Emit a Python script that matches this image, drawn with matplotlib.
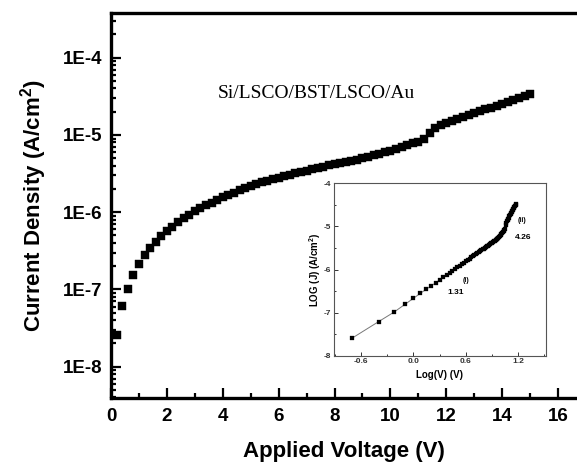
import numpy as np
import matplotlib
matplotlib.use("Agg")
import matplotlib.pyplot as plt
from matplotlib.ticker import FixedLocator, FuncFormatter, LogLocator, MultipleLocator, NullFormatter

plt.rcParams["font.family"] = ["Liberation Sans", "DejaVu Sans"]
plt.rcParams["mathtext.fontset"] = "custom"
plt.rcParams["mathtext.bf"] = "Liberation Sans:bold"
plt.rcParams["mathtext.rm"] = "Liberation Sans"

# Applied bias (V)
voltage = [0.2, 0.4, 0.6, 0.8, 1.0, 1.2, 1.4, 1.6, 1.8, 2.0,
           2.2, 2.4, 2.6, 2.8, 3.0, 3.2, 3.4, 3.6, 3.8, 4.0,
           4.2, 4.4, 4.6, 4.8, 5.0, 5.2, 5.4, 5.6, 5.8, 6.0,
           6.2, 6.4, 6.6, 6.8, 7.0, 7.2, 7.4, 7.6, 7.8, 8.0,
           8.2, 8.4, 8.6, 8.8, 9.0, 9.2, 9.4, 9.6, 9.8, 10.0,
           10.2, 10.4, 10.6, 10.8, 11.0, 11.2, 11.4, 11.6, 11.8, 12.0,
           12.2, 12.4, 12.6, 12.8, 13.0, 13.2, 13.4, 13.6, 13.8, 14.0,
           14.2, 14.4, 14.6, 14.8, 15.0]

# log10 of the leakage current density J (A/cm^2)
log_j = [-7.59, -7.21, -6.99, -6.81, -6.67, -6.555, -6.46, -6.38, -6.31, -6.245,
         -6.185, -6.13, -6.08, -6.035, -5.99, -5.95, -5.91, -5.875, -5.84, -5.805,
         -5.775, -5.745, -5.715, -5.69, -5.665, -5.64, -5.615, -5.595, -5.575, -5.555,
         -5.535, -5.515, -5.495, -5.478, -5.46, -5.445, -5.43, -5.41, -5.395, -5.38,
         -5.365, -5.35, -5.335, -5.32, -5.30, -5.285, -5.265, -5.245, -5.225, -5.205,
         -5.18, -5.16, -5.135, -5.11, -5.09, -5.05, -4.97, -4.91, -4.875, -4.845,
         -4.82, -4.795, -4.77, -4.745, -4.72, -4.695, -4.67, -4.645, -4.62, -4.595,
         -4.57, -4.545, -4.52, -4.495, -4.47]

x_ticks = [0, 2, 4, 6, 8, 10, 12, 14, 16]
y_ticks = [1e-8, 1e-7, 1e-6, 1e-5, 1e-4]
structure_label = "Si/LSCO/BST/LSCO/Au"

# inset: log-log view with the two conduction slopes
inset_x_ticks = [-0.6, 0.0, 0.6, 1.2]
inset_y_ticks = [-8, -7, -6, -5, -4]
slope_labels = [("(i)", 0.60, -6.25, 5), ("1.31", 0.485, -6.54, 6),
                ("(ii)", 1.25, -4.86, 5), ("4.26", 1.26, -5.25, 6)]

V = np.array(voltage)
LJ = np.array(log_j)
J = 10.0 ** LJ

W, H = 577, 462
fig = plt.figure(figsize=(W / 100, H / 100), dpi=100)
ax = fig.add_axes([111 / W, 1 - 398 / H, (W - 111) / W, (398 - 13) / H])

ax.plot(V, J, ls="none", marker="s", ms=6.4, color="black", mec="black", mew=0.3)
ax.set_yscale("log")
ax.set_xlim(0, (W - 111) / 27.94)
ax.set_ylim(10 ** -8.405, 10 ** -3.421)

ax.xaxis.set_major_locator(FixedLocator(x_ticks))
ax.xaxis.set_minor_locator(MultipleLocator(1))
ax.yaxis.set_major_locator(FixedLocator(y_ticks))
ax.yaxis.set_minor_locator(LogLocator(base=10, subs=np.arange(2, 10), numticks=20))
ax.yaxis.set_minor_formatter(NullFormatter())
ax.yaxis.set_major_formatter(FuncFormatter(lambda v, p: "1E%d" % int(round(np.log10(v)))))

ax.tick_params(which="both", direction="in", width=1.6, top=False, right=False)
ax.tick_params(which="major", length=7)
ax.tick_params(which="minor", length=3.5)
ax.tick_params(axis="x", which="major", labelsize=13.5, pad=7)
ax.tick_params(axis="y", which="major", labelsize=13.5, pad=6)
for lbl in ax.get_xticklabels() + ax.get_yticklabels():
    lbl.set_fontweight("bold")

for side in ("left", "bottom", "top"):
    ax.spines[side].set_linewidth(2.4)
ax.spines["right"].set_visible(False)

ax.set_xlabel("Applied Voltage (V)", fontsize=16, fontweight="bold", labelpad=12)
ax.set_ylabel(r"Current Density (A/cm$\mathbf{^2}$)", fontsize=16, fontweight="bold", labelpad=10)

fig.text(316.7 / W, 1 - 94 / H, structure_label, fontsize=14,
         family=["Liberation Serif", "DejaVu Serif"], ha="center", va="center")

# inset axes
ins = fig.add_axes([334.3 / W, 1 - 355.7 / H, (545.7 - 334.3) / W, (355.7 - 183.3) / H])
ins.plot(np.log10(V), LJ, color="#777777", lw=0.7, marker="s", ms=2.4,
         mfc="black", mec="black", mew=0.2)
ins.set_xlim(-0.905, 1.516)
ins.set_ylim(-8, -4)
ins.xaxis.set_major_locator(FixedLocator(inset_x_ticks))
ins.xaxis.set_minor_locator(MultipleLocator(0.3))
ins.yaxis.set_major_locator(FixedLocator(inset_y_ticks))
ins.yaxis.set_minor_locator(MultipleLocator(0.5))
ins.xaxis.set_major_formatter(FuncFormatter(lambda v, p: "%.1f" % v if abs(v) > 1e-9 else "0.0"))
ins.yaxis.set_major_formatter(FuncFormatter(lambda v, p: "%d" % v))
ins.tick_params(which="both", direction="in", width=0.7, colors="#333333", labelsize=6, pad=2)
ins.tick_params(which="major", length=3)
ins.tick_params(which="minor", length=1.5)
for lbl in ins.get_xticklabels() + ins.get_yticklabels():
    lbl.set_fontweight("bold")
for sp in ins.spines.values():
    sp.set_linewidth(0.8)
    sp.set_color("#555555")
ins.set_xlabel("Log(V) (V)", fontsize=7, fontweight="bold", labelpad=3)
ins.set_ylabel(r"LOG (J) (A/cm$\mathbf{^2}$)", fontsize=7, fontweight="bold", labelpad=1)
for txt, xx, yy, fs in slope_labels:
    ins.text(xx, yy, txt, fontsize=fs, fontweight="bold", ha="center", va="center")

fig.savefig("out.png", dpi=100)
